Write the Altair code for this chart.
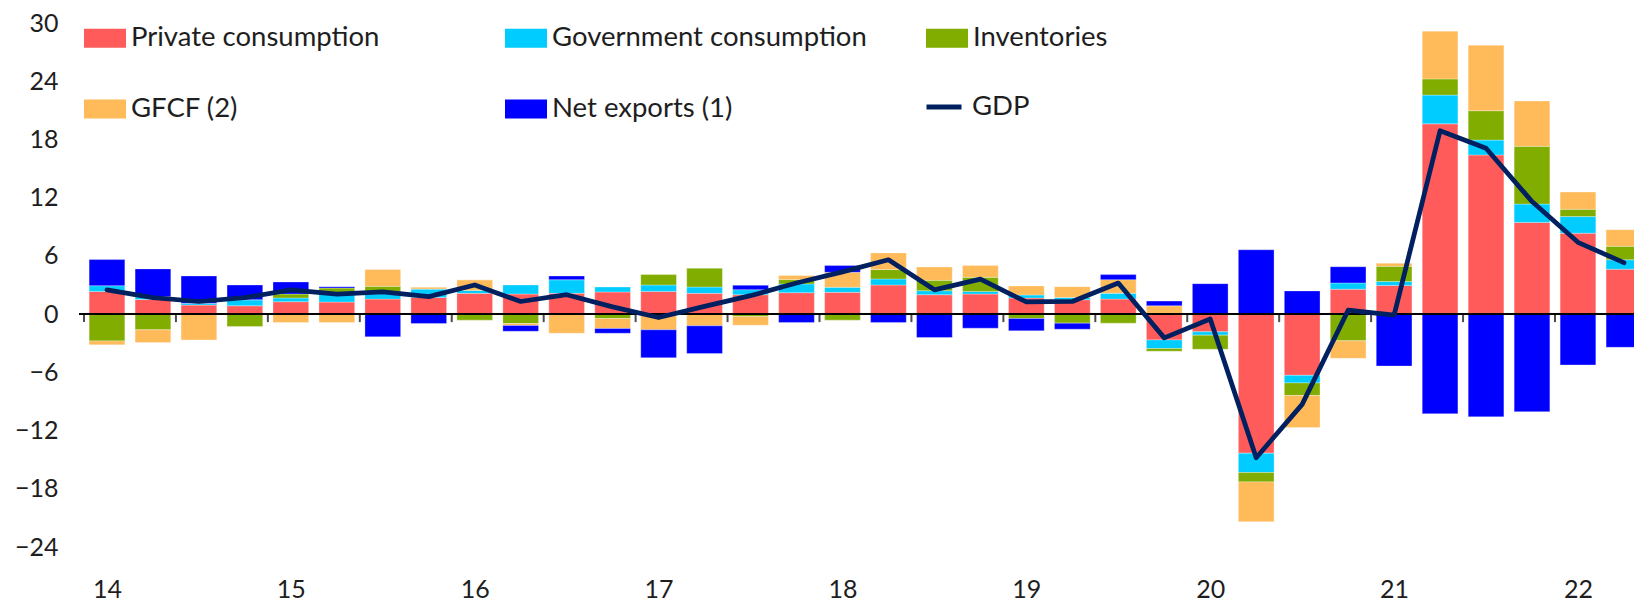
import altair as alt
import pandas as pd

# ---- data ----
quarters = ["14Q1", "14Q2", "14Q3", "14Q4", "15Q1", "15Q2", "15Q3", "15Q4",
            "16Q1", "16Q2", "16Q3", "16Q4", "17Q1", "17Q2", "17Q3", "17Q4",
            "18Q1", "18Q2", "18Q3", "18Q4", "19Q1", "19Q2", "19Q3", "19Q4",
            "20Q1", "20Q2", "20Q3", "20Q4", "21Q1", "21Q2", "21Q3", "21Q4",
            "22Q1", "22Q2"]
year_labels = ["14", "15", "16", "17", "18", "19", "20", "21", "22"]

private = [2.34, 1.5, 0.93, 0.86, 1.28, 1.24, 1.55, 1.72,
           2.14, 2.07, 2.14, 2.28, 2.34, 2.14, 2.0, 2.21,
           2.24, 3.0, 2.0, 2.07, 1.66, 1.48, 1.55, -2.66,
           -1.83, -14.33, -6.31, 2.57, 2.96, 19.61, 16.4, 9.45,
           8.34, 4.63]
government = [0.59, 0.3, 0.2, 0.62, 0.38, 0.9, 0.55, 0.87,
              0.3, 0.93, 1.41, 0.51, 0.66, 0.65, 0.52, 0.9,
              0.52, 0.62, 0.41, 0.27, 0.31, 0.24, 0.59, -0.89,
              -0.34, -2.0, -0.78, 0.64, 0.39, 2.96, 1.53, 1.89,
              1.71, 0.97]
inventories = [-2.76, -1.62, 0.0, -1.28, 0.41, 0.55, 0.76, 0.0,
               -0.62, -0.97, 0.0, -0.45, 1.07, 1.93, -0.24, 0.45,
               -0.62, 0.97, 1.07, 1.45, -0.45, -0.93, -0.93, -0.28,
               -1.45, -0.96, -1.29, -2.75, 1.57, 1.67, 3.03, 5.95,
               0.75, 1.39]
gfcf = [-0.41, -1.31, -2.66, 0.0, -0.86, -0.86, 1.73, 0.17,
        1.1, -0.2, -1.97, -1.03, -1.62, -1.21, -0.9, 0.42,
        1.55, 1.72, 1.38, 1.21, 0.93, 1.11, 1.41, 0.86,
        0.0, -4.1, -3.31, -1.81, 0.32, 4.92, 6.74, 4.67,
        1.78, 1.71]
net_exports = [2.69, 2.86, 2.8, 1.52, 1.24, 0.14, -2.34, -0.97,
               0.0, -0.6, 0.38, -0.49, -2.87, -2.86, 0.45, -0.86,
               0.69, -0.86, -2.41, -1.45, -1.27, -0.62, 0.52, 0.48,
               3.14, 6.63, 2.39, 1.67, -5.35, -10.27, -10.59, -10.05,
               -5.24, -3.42]
gdp = [2.5, 1.7, 1.3, 1.7, 2.5, 2.05, 2.3, 1.8,
       3.0, 1.3, 2.0, 0.75, -0.35, 0.8, 1.9, 3.2,
       4.35, 5.6, 2.5, 3.6, 1.25, 1.3, 3.2, -2.45,
       -0.5, -14.8, -9.3, 0.4, -0.1, 18.9, 17.1, 11.6,
       7.4, 5.3]

series_names = ["Private consumption", "Government consumption", "Inventories",
                "GFCF (2)", "Net exports (1)"]
series_values = [private, government, inventories, gfcf, net_exports]
series_colors = ["#FF5B5B", "#00CCFF", "#80AD00", "#FFBA5A", "#0000FF"]
gdp_name = "GDP"
gdp_color = "#002060"
y_ticks = [-24, -18, -12, -6, 0, 6, 12, 18, 24, 30]

# ---- tables ----
rows = []
for k, (name, vals) in enumerate(zip(series_names, series_values)):
    for i, v in enumerate(vals):
        rows.append({"idx": i, "quarter": quarters[i], "series": name, "value": v, "ord": k})
bars_df = pd.DataFrame(rows)
gdp_df = pd.DataFrame({"idx": list(range(len(quarters))), "quarter": quarters,
                       "value": gdp, "name": gdp_name})
tick_df = pd.DataFrame({"b": [i - 0.5 for i in range(0, len(quarters) + 1, 2)]})
label_positions = [4 * i for i in range(len(year_labels))]
label_expr = "[" + ",".join("'%s'" % s for s in year_labels) + "][datum.value / 4]"

FONT = "Lato"
TXT = "#1e1e1e"
FS = 25
LFS = 27.5

x_scale = alt.Scale(domain=[-0.5, 33.11], nice=False, zero=False)
y_scale = alt.Scale(domain=[-24, 30], nice=False, zero=False)

x_axis = alt.Axis(values=label_positions, labelExpr=label_expr, title=None,
                  domain=False, ticks=False, grid=False, labelPadding=30,
                  labelFont=FONT, labelFontSize=FS, labelColor=TXT, labelFlush=False)
y_axis = alt.Axis(values=y_ticks, title=None, domain=False, ticks=False, grid=False,
                  labelPadding=21, labelFont=FONT, labelFontSize=FS, labelColor=TXT)

bars = alt.Chart(bars_df).mark_bar(size=35.7, clip=True, stroke="white",
                                   strokeWidth=0.5, strokeOpacity=0.6).encode(
    x=alt.X("idx:Q", scale=x_scale, axis=x_axis),
    y=alt.Y("value:Q", stack="zero", scale=y_scale, axis=y_axis),
    color=alt.Color("series:N",
                    scale=alt.Scale(domain=series_names, range=series_colors),
                    legend=alt.Legend(orient="none", legendX=5, legendY=-6, columns=3,
                                      direction="horizontal",
                                      title=None, symbolType="M-1,-0.45H1V0.45H-1Z",
                                      symbolSize=1764, symbolStrokeWidth=0,
                                      symbolOpacity=1,
                                      labelFont=FONT, labelFontSize=LFS, labelColor=TXT,
                                      labelOffset=5, labelLimit=1000,
                                      columnPadding=59, rowPadding=36,
                                      gridAlign="all", padding=0)),
    order=alt.Order("ord:Q", sort="ascending"),
)

zero_rule = alt.Chart(tick_df).mark_rule(color="black", strokeWidth=2).encode(
    y=alt.datum(0, scale=y_scale)
)

ticks = alt.Chart(tick_df).mark_tick(orient="vertical", thickness=2, size=8,
                                      yOffset=4, color="black", clip=True).encode(
    x=alt.X("b:Q", scale=x_scale),
    y=alt.datum(0),
)

line = alt.Chart(gdp_df).mark_line(strokeWidth=4.75, strokeCap="round",
                                   strokeJoin="round").encode(
    x=alt.X("idx:Q", scale=x_scale),
    y=alt.Y("value:Q", scale=y_scale),
    stroke=alt.Stroke("name:N", scale=alt.Scale(domain=[gdp_name], range=[gdp_color]),
                      legend=alt.Legend(orient="none", legendX=845, legendY=64,
                                        title=None, symbolType="stroke",
                                        symbolSize=1225, symbolStrokeWidth=5,
                                        labelFont=FONT, labelFontSize=LFS,
                                        labelColor=TXT, labelOffset=8, padding=0)),
)

chart = alt.layer(bars, zero_rule, ticks, line).properties(
    width=1555, height=524,
    autosize=alt.AutoSizeParams(type="none"),
    padding={"left": 71, "top": 15, "right": 0, "bottom": 58},
    background="white",
).configure_view(stroke=None)

chart.save("out.html", embed_options={"renderer": "svg", "actions": False})
